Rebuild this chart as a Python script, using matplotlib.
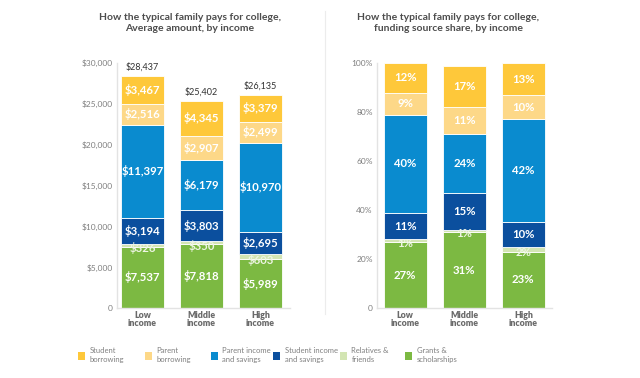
import matplotlib.pyplot as plt
import numpy as np

plt.rcParams['font.family'] = ['Lato', 'DejaVu Sans']

# Data
groups = ['Low\nincome', 'Middle\nincome', 'High\nincome']
sources = ['Grants &\nscholarships', 'Relatives &\nfriends', 'Student income\nand savings',
           'Parent income\nand savings', 'Parent\nborrowing', 'Student\nborrowing']
colors = ['#7cb942', '#d3e5b3', '#0b4f9e', '#0a8bcf', '#fdd888', '#fec83a']

amounts = [[7537, 7818, 5989],      # grants & scholarships
           [326, 350, 603],         # relatives & friends
           [3194, 3803, 2695],      # student income
           [11397, 6179, 10970],    # parent income
           [2516, 2907, 2499],      # parent borrowing
           [3467, 4345, 3379]]      # student borrowing
totals = [28437, 25402, 26135]

shares = [[27, 31, 23],
          [1, 1, 2],
          [11, 15, 10],
          [40, 24, 42],
          [9, 11, 10],
          [12, 17, 13]]

amount_ticks = [0, 5000, 10000, 15000, 20000, 25000, 30000]
amount_tick_labels = ['0', '$5,000', '$10,000', '$15,000', '$20,000', '$25,000', '$30,000']
share_ticks = [0, 20, 40, 60, 80, 100]
share_tick_labels = ['0', '20%', '40%', '60%', '80%', '100%']

title_col = '#4d4d4d'
tick_col = '#7f7f7f'
spine_col = '#e3e3e3'

fig = plt.figure(figsize=(6.4, 3.78), dpi=100)
axL = fig.add_axes([0.183, 0.185, 0.270, 0.648])
axR = fig.add_axes([0.589, 0.185, 0.273, 0.648])


def draw_stack(ax, data, fmt, small_limit, fs):
    x = np.arange(len(groups))
    bottom = np.zeros(len(groups))
    for vals, col in zip(data, colors):
        vals = np.array(vals, dtype=float)
        ax.bar(x, vals, 0.73, bottom=bottom, color=col, edgecolor='white', linewidth=0.6)
        for xi, b, v in zip(x, bottom, vals):
            if v < small_limit:
                # thin segments: label sits just under the segment, over the green
                ax.text(xi, b + v / 2 - small_limit * 0.4, fmt(v), ha='center', va='center',
                        color='#eef5e4', fontsize=fs, fontweight='bold')
            else:
                ax.text(xi, b + v / 2, fmt(v), ha='center', va='center',
                        color='white', fontsize=fs, fontweight='bold')
        bottom += vals
    ax.set_xticks(x)
    ax.set_xticklabels(groups, linespacing=0.9)
    for s in ['top', 'right']:
        ax.spines[s].set_visible(False)
    for s in ['left', 'bottom']:
        ax.spines[s].set_color(spine_col)
        ax.spines[s].set_linewidth(1.0)
    ax.tick_params(length=0, pad=3, labelsize=6, colors=tick_col)
    ax.tick_params(axis='x', pad=2, labelsize=6.3)
    for lab in ax.get_xticklabels():
        lab.set_fontweight('heavy')
        lab.set_color('#6a6a6a')
    return bottom


# Left: average amounts
draw_stack(axL, amounts, lambda v: '${:,.0f}'.format(v), 1000, 8.2)
for xi, t in enumerate(totals):
    axL.text(xi, t + 500, '${:,}'.format(t), ha='center', va='bottom', fontsize=6.5, color='#333333')
axL.set_xlim(-0.43, 2.5)
axL.set_ylim(0, 30000)
axL.set_yticks(amount_ticks)
axL.set_yticklabels(amount_tick_labels)
fig.text(0.297, 0.965, 'How the typical family pays for college,\nAverage amount, by income',
         ha='center', va='top', fontsize=7.5, fontweight='bold', color=title_col, linespacing=1.25)

# Right: shares
draw_stack(axR, shares, lambda v: '{:.0f}%'.format(v), 3, 8.2)
axR.set_xlim(-0.48, 2.48)
axR.set_ylim(0, 100)
axR.set_yticks(share_ticks)
axR.set_yticklabels(share_tick_labels)
fig.text(0.700, 0.965, 'How the typical family pays for college,\nfunding source share, by income',
         ha='center', va='top', fontsize=7.5, fontweight='bold', color=title_col, linespacing=1.25)

# separator line
fig.add_artist(plt.Line2D([0.508, 0.508], [0.17, 0.97], color='#ececec', linewidth=0.8))

# Legend along the bottom
legend_order = [5, 4, 3, 2, 1, 0]
leg_x = [0.122, 0.226, 0.329, 0.427, 0.531, 0.633]
for lx, i in zip(leg_x, legend_order):
    fig.patches.append(plt.Rectangle((lx, 0.047), 0.011, 0.022, transform=fig.transFigure,
                                     facecolor=colors[i], edgecolor='none'))
    fig.text(lx + 0.018, 0.061, sources[i], ha='left', va='center', fontsize=5.5,
             color='#808080', linespacing=1.3)

fig.savefig('out.png', dpi=100)
